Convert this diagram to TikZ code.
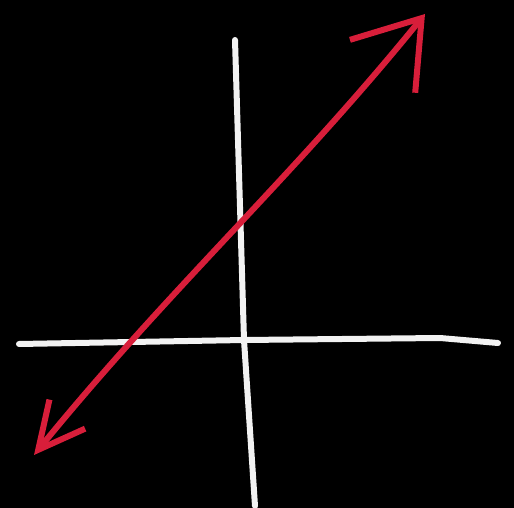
\documentclass[tikz,border=0pt]{standalone}
\usepackage{tikz}
\usetikzlibrary{arrows.meta}
\definecolor{ChalkRed}{HTML}{D81E3A}
\definecolor{ChalkWhite}{HTML}{F2F2F2}

\begin{document}
\begin{tikzpicture}[x=1pt,y=-1pt, axisline/.style={ChalkWhite,line width=6pt,line cap=round}, graphline/.style={ChalkRed,line width=6pt,line cap=round,line join=round}]
    \fill[black] (0,0) rectangle (514,508);
    \useasboundingbox (0,0) rectangle (514,508);
    \coordinate (ytop) at (235,40);
    \coordinate (ybot) at (255,506);
    \coordinate (origin) at (244,340);
    \coordinate (xleft) at (19,344);
    \coordinate (xright) at (498,343);
    \coordinate (lowend) at (34,455);
    \coordinate (highend) at (425,14);
    \draw[axisline] (xleft) -- (origin) -- (440,338) -- (xright);
    \draw[axisline] (ytop) -- (origin) -- (ybot);
    \draw[graphline,{Straight Barb[length=46pt,width=46pt]}-{Straight Barb[length=62pt,width=84pt]}] (lowend) .. controls (170,288) and (292,178) .. (highend);
\end{tikzpicture}
\end{document}
